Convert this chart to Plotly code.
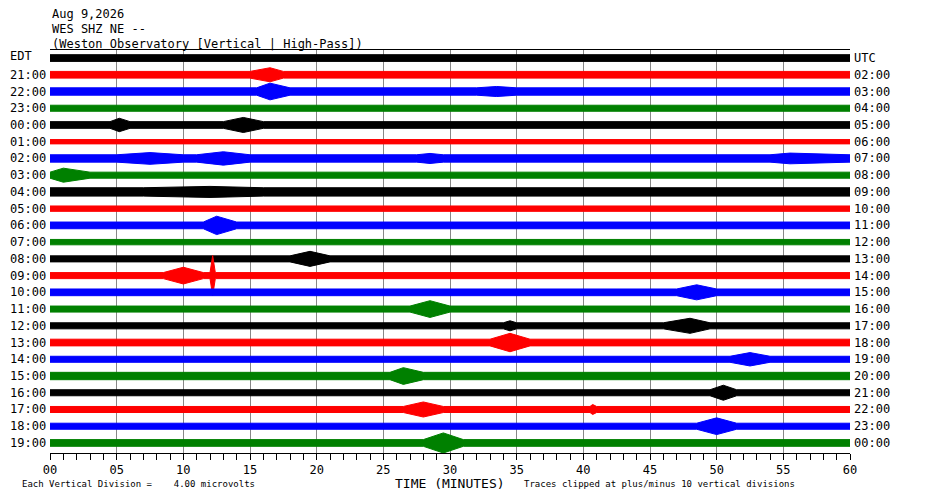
import plotly.graph_objects as go

edt_labels = ["", "21:00", "22:00", "23:00", "00:00", "01:00", "02:00", "03:00", "04:00", "05:00",
              "06:00", "07:00", "08:00", "09:00", "10:00", "11:00", "12:00", "13:00", "14:00",
              "15:00", "16:00", "17:00", "18:00", "19:00"]
utc_labels = ["UTC", "02:00", "03:00", "04:00", "05:00", "06:00", "07:00", "08:00", "09:00", "10:00",
              "11:00", "12:00", "13:00", "14:00", "15:00", "16:00", "17:00", "18:00", "19:00",
              "20:00", "21:00", "22:00", "23:00", "00:00"]
row_colors = ["black", "red", "blue", "green"]
# baseline half-amplitude per row (in row-spacing units)
baseline = [0.2, 0.2, 0.22, 0.18, 0.2, 0.13, 0.22, 0.18, 0.25, 0.16, 0.2, 0.16,
            0.18, 0.18, 0.2, 0.18, 0.18, 0.2, 0.18, 0.22, 0.18, 0.18, 0.18, 0.2]
# events per row: (start min, peak min, end min, peak half-amplitude)
events = [
    [],
    [(15.0, 16.5, 17.5, 0.42)],
    [(15.5, 16.5, 18.0, 0.5), (32.0, 33.5, 35.0, 0.3)],
    [],
    [(4.5, 5.2, 6.0, 0.4), (13.0, 14.5, 16.0, 0.45)],
    [],
    [(5.0, 7.5, 10.0, 0.35), (11.0, 13.0, 15.0, 0.4), (27.5, 28.5, 29.5, 0.3), (54.0, 55.5, 60.0, 0.32)],
    [(0.0, 1.0, 3.0, 0.42)],
    [(7.0, 12.0, 16.0, 0.33)],
    [],
    [(11.5, 12.5, 14.0, 0.55)],
    [],
    [(18.0, 19.5, 21.0, 0.45)],
    [(8.5, 10.0, 11.5, 0.5), (12.0, 12.2, 12.4, 1.2)],
    [(47.0, 48.5, 50.0, 0.45)],
    [(27.0, 28.5, 30.0, 0.5)],
    [(34.0, 34.5, 35.0, 0.3), (46.0, 48.0, 49.5, 0.45)],
    [(33.0, 34.5, 36.0, 0.55)],
    [(51.0, 52.5, 54.0, 0.4)],
    [(25.5, 26.5, 28.0, 0.5)],
    [(49.5, 50.5, 51.5, 0.45)],
    [(26.5, 28.0, 29.5, 0.45), (40.5, 40.7, 41.0, 0.3)],
    [(48.5, 50.0, 51.5, 0.5)],
    [(28.0, 29.5, 31.0, 0.6)],
]

font_mono = "DejaVu Sans Mono"
fig = go.Figure()
for i in range(24):
    b = baseline[i]
    xs, amps = [0.0], [b]
    for (s, p, e, a) in events[i]:
        xs += [s, p, e]
        amps += [b, a, b]
    xs.append(60.0)
    amps.append(b)
    y0 = -i
    px = xs + xs[::-1]
    py = [y0 + a for a in amps] + [y0 - a for a in amps[::-1]]
    c = row_colors[i % 4]
    fig.add_trace(go.Scatter(x=px, y=py, fill="toself", fillcolor=c, mode="lines",
                             line=dict(color=c, width=1), showlegend=False, hoverinfo="skip"))

ann = []
for i in range(24):
    if edt_labels[i]:
        ann.append(dict(x=0, xref="paper", y=-i, yref="y", text=edt_labels[i], showarrow=False,
                        xanchor="right", xshift=-2, font=dict(family=font_mono, size=12, color="black")))
    ann.append(dict(x=1, xref="paper", y=-i, yref="y", text=utc_labels[i], showarrow=False,
                    xanchor="left", xshift=2, font=dict(family=font_mono, size=12, color="black")))
ann.append(dict(x=0, xref="paper", y=0, yref="y", text="EDT", showarrow=False, xanchor="left",
                xshift=-42, yshift=2, font=dict(family=font_mono, size=12, color="black")))
for k, t in enumerate(["Aug 9,2026", "WES SHZ NE --", "(Weston Observatory [Vertical | High-Pass])"]):
    ann.append(dict(x=0, xref="paper", y=1, yref="paper", text=t, showarrow=False,
                    xanchor="left", yanchor="bottom", yshift=27 - k * 15,
                    font=dict(family=font_mono, size=12, color="black")))
ann.append(dict(x=0.5, xref="paper", y=0, yref="paper", text="TIME (MINUTES)", showarrow=False,
                yanchor="top", yshift=-21, font=dict(family=font_mono, size=13, color="black")))
ann.append(dict(x=0.59, xref="paper", y=0, yref="paper", text="Traces clipped at plus/minus 10 vertical divisions",
                showarrow=False, xanchor="left", yanchor="top", yshift=-24,
                font=dict(family=font_mono, size=9, color="black")))
ann.append(dict(x=0, xref="paper", y=0, yref="paper", text="Each Vertical Division =    4.00 microvolts",
                showarrow=False, xanchor="left", yanchor="top", yshift=-24, xshift=-30,
                font=dict(family=font_mono, size=9, color="black")))

fig.update_layout(
    width=922, height=484, margin=dict(l=42, r=80, t=42, b=39, autoexpand=False),
    plot_bgcolor="white", paper_bgcolor="white", annotations=ann,
    xaxis=dict(range=[0, 60], tickvals=list(range(0, 61, 5)),
               ticktext=["%02d" % v for v in range(0, 61, 5)],
               ticks="outside", ticklen=6, tickcolor="black", showgrid=True,
               gridcolor="#888888", gridwidth=1, showline=True, linecolor="black", mirror=True,
               zeroline=False, minor=dict(dtick=1, ticks="outside", ticklen=6, tickcolor="black", showgrid=False),
               tickfont=dict(family=font_mono, size=12, color="black")),
    yaxis=dict(range=[-23.6, 0.48], showticklabels=False, showgrid=False, zeroline=False,
               showline=False, ticks=""),
)
fig.write_html("out.html")
